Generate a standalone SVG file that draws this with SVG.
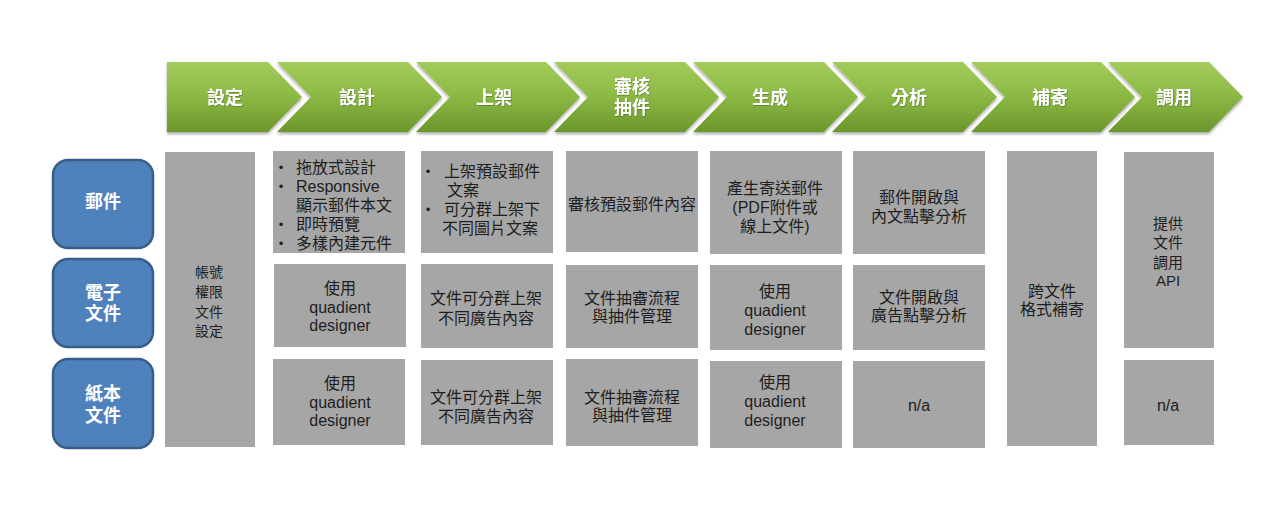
<svg xmlns="http://www.w3.org/2000/svg" width="1280" height="520" viewBox="0 0 1280 520">
<defs>
<linearGradient id="g" x1="0" y1="0" x2="0" y2="1">
<stop offset="0" stop-color="#a3cb5b"/>
<stop offset="0.5" stop-color="#8bb844"/>
<stop offset="1" stop-color="#6b962b"/>
</linearGradient>
<filter id="sh" x="-5%" y="-10%" width="110%" height="130%">
<feDropShadow dx="0" dy="2" stdDeviation="1.8" flood-color="#000" flood-opacity="0.35"/>
</filter>
<filter id="tsh" x="-10%" y="-20%" width="120%" height="140%">
<feDropShadow dx="0.6" dy="0.8" stdDeviation="0.6" flood-color="#3b5512" flood-opacity="0.6"/>
</filter>
</defs>
<style>
.chev{fill:url(#g);filter:url(#sh)}
.ht{font-family:"Liberation Sans","Noto Sans CJK TC",sans-serif;font-size:18px;font-weight:bold;fill:#fff;text-anchor:middle;filter:url(#tsh)}
.src{fill:#4f81bd;stroke:#385d8a;stroke-width:2.5}
.st{font-family:"Liberation Sans","Noto Sans CJK TC",sans-serif;font-size:18px;font-weight:bold;fill:#fff;text-anchor:middle}
.cell{fill:#a6a6a6}
.ct{font-family:"Liberation Sans","Noto Sans CJK TC",sans-serif;font-size:16px;fill:#1e1e1e;text-anchor:middle}
.lt{font-family:"Liberation Sans","Noto Sans CJK TC",sans-serif;font-size:16px;fill:#1e1e1e;text-anchor:start}
.bul{font-family:"Liberation Sans",sans-serif;font-size:13px;fill:#1e1e1e;text-anchor:middle}
</style>
<rect width="1280" height="520" fill="#fff"/>

<g id="header">
<g id="step-setting"><path class="chev" d="M167,62 L268,62 L302,97 L268,132 L167,132 Z"/><text class="ht" x="225" y="104">設定</text></g>
<g id="step-design"><path class="chev" d="M277,62 L408,62 L442,97 L408,132 L277,132 L311,97 Z"/><text class="ht" x="357" y="104">設計</text></g>
<g id="step-publish"><path class="chev" d="M416,62 L546,62 L580,97 L546,132 L416,132 L450,97 Z"/><text class="ht" x="494" y="104">上架</text></g>
<g id="step-review"><path class="chev" d="M554,62 L685,62 L719,97 L685,132 L554,132 L588,97 Z"/><text class="ht" x="632" y="93">審核</text><text class="ht" x="632" y="114">抽件</text></g>
<g id="step-generate"><path class="chev" d="M693,62 L824,62 L858,97 L824,132 L693,132 L727,97 Z"/><text class="ht" x="770" y="104">生成</text></g>
<g id="step-analyze"><path class="chev" d="M832,62 L963,62 L997,97 L963,132 L832,132 L866,97 Z"/><text class="ht" x="909" y="104">分析</text></g>
<g id="step-resend"><path class="chev" d="M971,62 L1101,62 L1135,97 L1101,132 L971,132 L1005,97 Z"/><text class="ht" x="1050" y="104">補寄</text></g>
<g id="step-api"><path class="chev" d="M1108,62 L1209,62 L1243,97 L1209,132 L1108,132 L1142,97 Z"/><text class="ht" x="1174" y="104">調用</text></g>
</g>

<g id="sources">
<g id="src-mail"><rect class="src" x="53" y="160" width="100" height="88" rx="15"/><text class="st" x="103" y="208">郵件</text></g>
<g id="src-edoc"><rect class="src" x="53" y="259" width="100" height="88" rx="15"/><text class="st" x="103" y="299">電子</text><text class="st" x="103" y="320">文件</text></g>
<g id="src-paper"><rect class="src" x="53" y="359" width="100" height="89" rx="15"/><text class="st" x="103" y="400">紙本</text><text class="st" x="103" y="422">文件</text></g>
</g>

<g id="col-setting">
<rect class="cell" x="165" y="152" width="90" height="295"/>
<text class="ct" style="font-size:14px" x="209" y="277">帳號</text>
<text class="ct" style="font-size:14px" x="209" y="297">權限</text>
<text class="ct" style="font-size:14px" x="209" y="317">文件</text>
<text class="ct" style="font-size:14px" x="209" y="336">設定</text>
</g>

<g id="col-design">
<g id="design-mail"><rect class="cell" x="273" y="151" width="132" height="102"/>
<text class="bul" x="281" y="172">•</text><text class="lt" x="296" y="173">拖放式設計</text>
<text class="bul" x="281" y="191">•</text><text class="lt" x="296" y="192">Responsive</text>
<text class="lt" x="296" y="211">顯示郵件本文</text>
<text class="bul" x="281" y="229">•</text><text class="lt" x="296" y="230">即時預覽</text>
<text class="bul" x="281" y="248">•</text><text class="lt" x="296" y="249">多樣內建元件</text>
</g>
<g id="design-edoc"><rect class="cell" x="274" y="264" width="132" height="83"/>
<text class="ct" x="340" y="294">使用</text><text class="ct" x="340" y="313">quadient</text><text class="ct" x="340" y="331">designer</text></g>
<g id="design-paper"><rect class="cell" x="273" y="359" width="132" height="86"/>
<text class="ct" x="340" y="389">使用</text><text class="ct" x="340" y="408">quadient</text><text class="ct" x="340" y="426">designer</text></g>
</g>

<g id="col-publish">
<g id="publish-mail"><rect class="cell" x="421" y="151" width="132" height="102"/>
<text class="bul" x="428" y="176">•</text><text class="lt" x="444" y="177">上架預設郵件</text>
<text class="lt" x="447" y="196">文案</text>
<text class="bul" x="428" y="214">•</text><text class="lt" x="444" y="215">可分群上架下</text>
<text class="lt" x="442" y="234">不同圖片文案</text>
</g>
<g id="publish-edoc"><rect class="cell" x="421" y="264" width="132" height="84"/>
<text class="ct" x="486" y="304">文件可分群上架</text><text class="ct" x="486" y="324">不同廣告內容</text></g>
<g id="publish-paper"><rect class="cell" x="421" y="360" width="132" height="85"/>
<text class="ct" x="486" y="403">文件可分群上架</text><text class="ct" x="486" y="422">不同廣告內容</text></g>
</g>

<g id="col-review">
<g id="review-mail"><rect class="cell" x="566" y="151" width="132" height="101"/>
<text class="ct" x="632" y="210">審核預設郵件內容</text></g>
<g id="review-edoc"><rect class="cell" x="566" y="265" width="132" height="83"/>
<text class="ct" x="632" y="304">文件抽審流程</text><text class="ct" x="632" y="322">與抽件管理</text></g>
<g id="review-paper"><rect class="cell" x="566" y="359" width="132" height="87"/>
<text class="ct" x="632" y="403">文件抽審流程</text><text class="ct" x="632" y="421">與抽件管理</text></g>
</g>

<g id="col-generate">
<g id="generate-mail"><rect class="cell" x="710" y="151" width="132" height="103"/>
<text class="ct" x="775" y="194">產生寄送郵件</text><text class="ct" x="775" y="213">(PDF附件或</text><text class="ct" x="775" y="232">線上文件)</text></g>
<g id="generate-edoc"><rect class="cell" x="710" y="265" width="132" height="85"/>
<text class="ct" x="775" y="297">使用</text><text class="ct" x="775" y="316">quadient</text><text class="ct" x="775" y="335">designer</text></g>
<g id="generate-paper"><rect class="cell" x="710" y="361" width="132" height="87"/>
<text class="ct" x="775" y="388">使用</text><text class="ct" x="775" y="407">quadient</text><text class="ct" x="775" y="426">designer</text></g>
</g>

<g id="col-analyze">
<g id="analyze-mail"><rect class="cell" x="853" y="151" width="132" height="103"/>
<text class="ct" x="919" y="203">郵件開啟與</text><text class="ct" x="919" y="222">內文點擊分析</text></g>
<g id="analyze-edoc"><rect class="cell" x="853" y="265" width="132" height="85"/>
<text class="ct" x="919" y="303">文件開啟與</text><text class="ct" x="919" y="321">廣告點擊分析</text></g>
<g id="analyze-paper"><rect class="cell" x="853" y="361" width="132" height="87"/>
<text class="ct" x="919" y="411">n/a</text></g>
</g>

<g id="col-resend">
<rect class="cell" x="1007" y="151" width="90" height="295"/>
<text class="ct" x="1052" y="297">跨文件</text><text class="ct" x="1052" y="315">格式補寄</text>
</g>

<g id="col-api">
<g id="api-digital"><rect class="cell" x="1124" y="152" width="90" height="196"/>
<text class="ct" style="font-size:15px" x="1168" y="229">提供</text><text class="ct" style="font-size:15px" x="1168" y="248">文件</text><text class="ct" style="font-size:15px" x="1168" y="268">調用</text><text class="ct" style="font-size:15px" x="1168" y="286">API</text></g>
<g id="api-paper"><rect class="cell" x="1124" y="360" width="90" height="85"/>
<text class="ct" x="1168" y="411">n/a</text></g>
</g>

<g id="connectors"/>
</svg>
